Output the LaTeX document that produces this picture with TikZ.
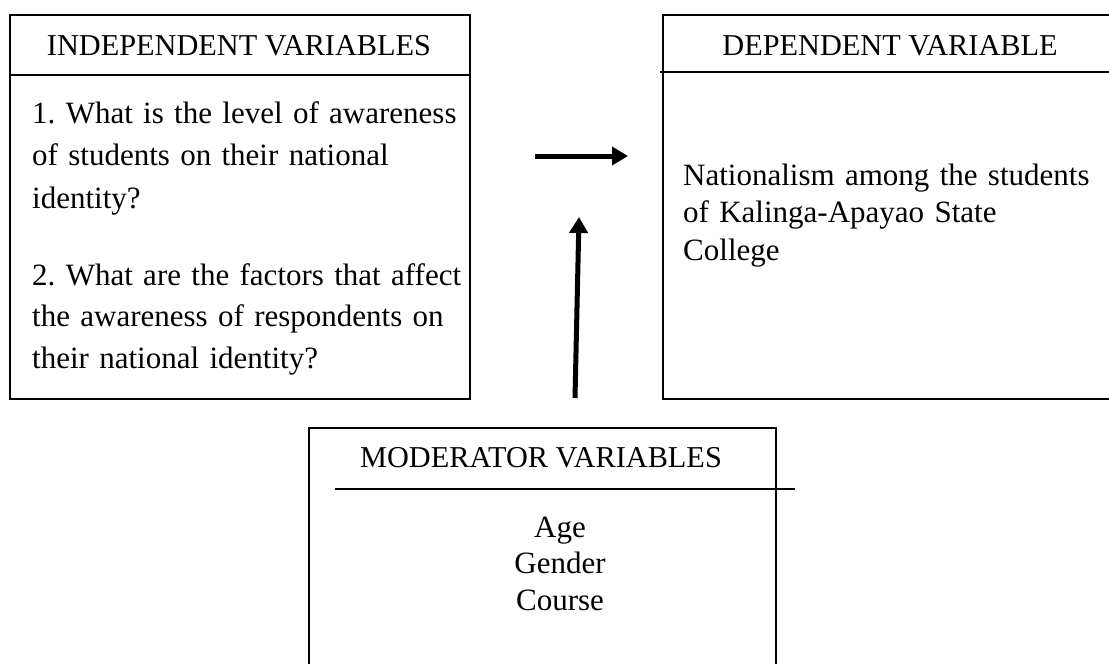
\documentclass[tikz,border=0pt]{standalone}
\usepackage{fontspec}
\setmainfont{Liberation Serif}
\usetikzlibrary{arrows.meta}
\frenchspacing
\begin{document}
\begin{tikzpicture}[x=1pt,y=-1pt,
  frame/.style={draw, line width=1.5pt, inner sep=0pt},
  rule/.style={line width=2.8pt},
  head/.style={inner sep=0pt, anchor=base, font=\fontsize{30.3}{35}\selectfont},
  bodytext/.style={inner sep=0pt, anchor=base west, align=left, text width=480pt},
  flow/.style={line width=5pt, -{Triangle[length=16pt,width=18pt]}}]
\useasboundingbox (0,0) rectangle (1109,664);
\clip (0,0) rectangle (1109,664);
% boxes
\node[frame, minimum width=460pt, minimum height=384pt] (ind) at (240,207) {};
\node[frame, minimum width=460pt, minimum height=384pt] (dep) at (893,207) {};
\node[frame, minimum width=467pt, minimum height=300pt] (mod) at (542.5,578) {};
% header rules
\draw[rule] (10,75) -- (471,75);
\draw[rule] (660,72) -- (1112,72);
\draw[rule] (335,489) -- (795,489);
% headers
\node[head] (indh) at (239,55) {INDEPENDENT VARIABLES};
\node[head] (deph) at (890,55) {DEPENDENT VARIABLE};
\node[head] (modh) at (541,467) {MODERATOR VARIABLES};
% body texts
\node[bodytext, font=\fontsize{31}{42.5}\selectfont] (q1) at (32,123)
  {1. What is the level of awareness\\of students on their national\\identity?};
\node[bodytext, font=\fontsize{31}{41.5}\selectfont] (q2) at (32,285)
  {2. What are the factors that affect\\the awareness of respondents on\\their national identity?};
\node[bodytext, font=\fontsize{31}{37.5}\selectfont] (dv) at (683,185)
  {Nationalism among the students\\of Kalinga-Apayao State\\College};
\node[inner sep=0pt, anchor=base, align=center, text width=200pt,
      font=\fontsize{31}{36.5}\selectfont] (mv) at (560,537)
  {Age\\Gender\\Course};
% arrows
\coordinate (h1) at (535,156);
\coordinate (h2) at (628,156);
\coordinate (v1) at (575,398);
\coordinate (v2) at (579,217);
\draw[flow] (h1) -- (h2);
\draw[flow] (v1) -- (v2);
\end{tikzpicture}
\end{document}
